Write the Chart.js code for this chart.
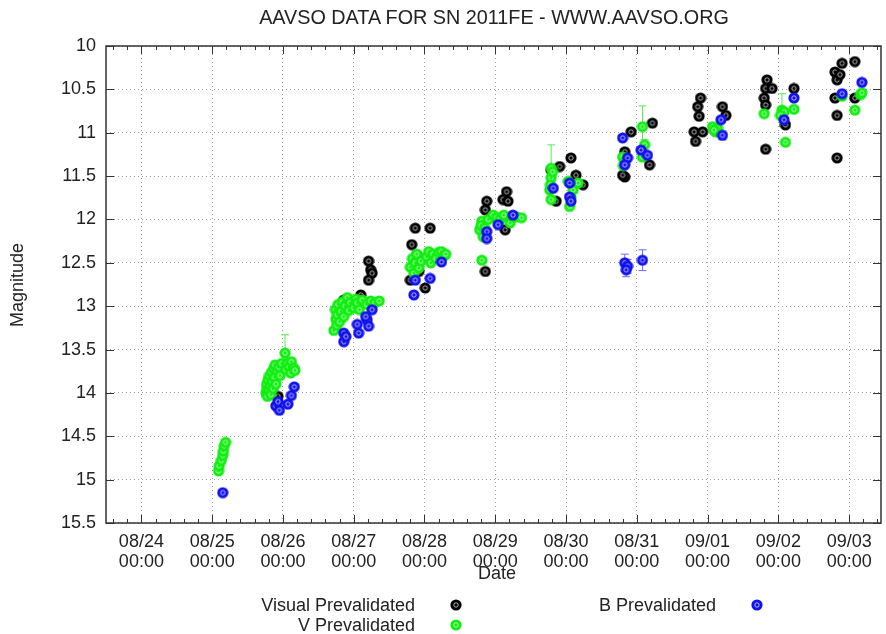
<!DOCTYPE html>
<html>
<head>
<meta charset="utf-8">
<script src="https://cdn.jsdelivr.net/npm/chart.js@4.4.1/dist/chart.umd.min.js"></script>
<style>
  body { margin: 0; background: #fff; }
  #wrap { position: relative; width: 886px; height: 634px; font-family: "Liberation Sans", Arial, sans-serif; color: #222; }
  #wrap div { position: absolute; white-space: nowrap; font-size: 18px; line-height: 20px; }
  .mk { position: absolute; width: 12px; height: 12px; }
</style>
</head>
<body>
<div id="wrap">
  <canvas id="chart" width="886" height="634"></canvas>
  <div id="titre" style="left:494px; top:7px; transform:translateX(-50%); font-size:19.8px;">AAVSO DATA FOR SN 2011FE - WWW.AAVSO.ORG</div>
  <div style="left:17px; top:285px; transform:translate(-50%,-50%) rotate(-90deg);">Magnitude</div>
  <div style="left:497px; top:563px; transform:translateX(-50%);">Date</div>
  <div style="right:471px; top:595px;">Visual Prevalidated</div>
  <div style="right:471px; top:615px;">V Prevalidated</div>
  <div style="right:170px; top:595px;">B Prevalidated</div>
</div>
<script>
// jours depuis 08/24 00:00
const dayTicks = [0, 1, 2, 3, 4, 5, 6, 7, 8, 9, 10];
const dateLabels = ['08/24', '08/25', '08/26', '08/27', '08/28', '08/29', '08/30', '08/31', '09/01', '09/02', '09/03'];
const magTicks = [10, 10.5, 11, 11.5, 12, 12.5, 13, 13.5, 14, 14.5, 15, 15.5];

// [jour, magnitude]
const visualObs = [
  [1.93, 14.04],
  [2.86, 12.93], [3.10, 12.87], [3.21, 12.48], [3.24, 12.58], [3.26, 12.62], [3.21, 12.70],
  [3.87, 12.10], [4.08, 12.10], [3.82, 12.29], [3.89, 12.41], [3.80, 12.70], [4.01, 12.79], [3.92, 12.60],
  [4.88, 11.79], [4.86, 11.89], [5.16, 11.68], [5.11, 11.77], [5.18, 11.79], [5.14, 12.12], [4.86, 12.60],
  [5.91, 11.39], [6.07, 11.29], [6.14, 11.49], [6.24, 11.60], [5.86, 11.79], [5.79, 11.43],
  [6.92, 10.99], [7.22, 10.89], [6.83, 11.22], [7.18, 11.37], [6.83, 11.51], [6.80, 11.49],
  [7.90, 10.60], [7.86, 10.70], [7.88, 10.81], [7.81, 10.99], [7.93, 10.99], [7.83, 11.10], [8.21, 10.70], [8.26, 10.80],
  [8.84, 10.39], [8.82, 10.49], [8.91, 10.49], [8.80, 10.60], [8.82, 10.68], [9.22, 10.49], [8.82, 11.19], [9.10, 10.91],
  [9.90, 10.20], [10.08, 10.18], [9.80, 10.30], [9.83, 10.39], [9.87, 10.33], [9.80, 10.60], [9.83, 10.80], [9.83, 11.29], [10.08, 10.60]
];

// [jour, magnitude, erreur]
const vObs = [
  [1.09, 14.90, 0.03], [1.10, 14.84, 0], [1.13, 14.78, 0], [1.15, 14.72, 0], [1.16, 14.67, 0], [1.17, 14.61, 0], [1.19, 14.57, 0],
  [1.76, 14.00, 0], [1.77, 13.95, 0], [1.77, 13.90, 0], [1.78, 14.04, 0], [1.79, 13.85, 0], [1.80, 13.97, 0], [1.81, 13.80, 0],
  [1.82, 13.92, 0], [1.83, 14.02, 0], [1.84, 13.76, 0], [1.85, 13.87, 0], [1.86, 13.95, 0], [1.87, 13.72, 0], [1.88, 13.82, 0],
  [1.89, 13.68, 0.05], [1.90, 13.90, 0], [1.92, 13.75, 0], [1.94, 13.70, 0], [1.96, 13.80, 0], [1.98, 13.66, 0],
  [2.03, 13.54, 0.21], [2.04, 13.73, 0], [2.06, 13.66, 0], [2.09, 13.70, 0], [2.11, 13.77, 0], [2.12, 13.64, 0], [2.15, 13.71, 0], [2.17, 13.74, 0],
  [2.72, 13.28, 0], [2.74, 13.04, 0], [2.75, 13.15, 0], [2.76, 13.22, 0], [2.77, 13.10, 0], [2.78, 12.98, 0], [2.80, 13.18, 0],
  [2.82, 13.06, 0], [2.84, 12.95, 0], [2.86, 13.12, 0], [2.88, 13.00, 0], [2.91, 12.90, 0], [2.93, 13.05, 0], [2.95, 12.96, 0],
  [3.00, 13.02, 0], [3.03, 12.92, 0], [3.05, 12.96, 0], [3.08, 13.04, 0], [3.12, 12.93, 0], [3.18, 12.98, 0], [3.24, 12.94, 0],
  [3.30, 12.96, 0], [3.36, 12.94, 0],
  [3.80, 12.55, 0], [3.83, 12.45, 0], [3.85, 12.62, 0], [3.87, 12.50, 0], [3.89, 12.40, 0], [3.92, 12.56, 0], [3.95, 12.48, 0],
  [4.03, 12.43, 0], [4.06, 12.37, 0], [4.09, 12.50, 0], [4.12, 12.40, 0], [4.16, 12.45, 0], [4.20, 12.38, 0], [4.24, 12.37, 0],
  [4.28, 12.42, 0], [4.30, 12.40, 0],
  [4.78, 12.12, 0], [4.81, 12.02, 0], [4.83, 12.20, 0], [4.80, 12.07, 0], [4.85, 12.10, 0], [4.90, 12.00, 0], [4.97, 11.95, 0],
  [5.02, 11.98, 0], [5.07, 12.00, 0], [5.12, 11.95, 0], [5.21, 12.04, 0], [5.25, 11.97, 0], [5.30, 11.97, 0], [5.37, 11.98, 0],
  [4.81, 12.47, 0],
  [5.79, 11.41, 0.27], [5.79, 11.52, 0], [5.77, 11.66, 0], [5.79, 11.77, 0], [5.78, 11.60, 0], [5.81, 11.45, 0],
  [6.03, 11.56, 0], [6.10, 11.66, 0], [6.05, 11.85, 0], [6.17, 11.58, 0], [6.07, 11.75, 0],
  [7.08, 10.93, 0.24], [6.80, 11.28, 0], [6.83, 11.33, 0], [7.11, 11.14, 0.06], [7.08, 11.28, 0], [6.81, 11.38, 0],
  [8.07, 10.93, 0], [8.14, 10.95, 0], [8.11, 10.99, 0], [8.09, 10.97, 0],
  [8.80, 10.78, 0], [9.05, 10.74, 0.19], [9.08, 10.76, 0], [9.22, 10.73, 0], [9.10, 11.11, 0], [9.03, 10.80, 0],
  [9.90, 10.58, 0], [10.08, 10.74, 0], [10.16, 10.56, 0], [10.18, 10.54, 0]
];

const bObs = [
  [1.15, 15.15, 0],
  [1.90, 14.15, 0], [1.95, 14.20, 0], [2.07, 14.13, 0], [2.12, 14.03, 0], [2.16, 13.93, 0], [1.93, 14.10, 0.05],
  [2.86, 13.41, 0], [2.86, 13.31, 0], [2.89, 13.35, 0], [3.05, 13.21, 0], [3.07, 13.31, 0], [3.19, 13.16, 0],
  [3.21, 13.23, 0], [3.26, 13.04, 0], [3.17, 13.12, 0],
  [3.87, 12.70, 0], [3.85, 12.87, 0], [4.08, 12.68, 0], [4.24, 12.49, 0],
  [4.88, 12.14, 0], [4.88, 12.22, 0], [5.04, 12.06, 0], [5.25, 11.95, 0],
  [5.82, 11.64, 0], [6.05, 11.58, 0], [6.05, 11.74, 0], [6.07, 11.79, 0],
  [6.80, 11.06, 0], [6.87, 11.29, 0], [6.83, 11.37, 0], [7.06, 11.20, 0], [7.15, 11.26, 0],
  [6.83, 12.50, 0.10], [6.87, 12.54, 0.08], [6.85, 12.58, 0.08], [7.08, 12.47, 0.12],
  [8.19, 10.85, 0], [8.21, 11.03, 0.05],
  [9.22, 10.60, 0], [9.08, 10.85, 0],
  [9.90, 10.55, 0], [10.18, 10.42, 0]
];

// petit rond façon gnuplot
function marqueur(couleur) {
  const c = document.createElement('canvas');
  c.width = 12; c.height = 12;
  const g = c.getContext('2d');
  g.fillStyle = couleur;
  g.beginPath(); g.arc(6, 6, 5.6, 0, Math.PI * 2); g.fill();
  g.strokeStyle = 'rgba(255,255,255,0.85)'; g.lineWidth = 0.8;
  g.beginPath(); g.arc(6, 6, 2.2, 0, Math.PI * 2); g.stroke();
  g.fillStyle = couleur;
  g.beginPath(); g.arc(6, 6, 1, 0, Math.PI * 2); g.fill();
  return c;
}

const mkNoir = marqueur('#000000');
const mkVert = marqueur('#11ee11');
const mkBleu = marqueur('#1111ee');

// legende (marqueurs)
const wrap = document.getElementById('wrap');
[[mkNoir, 450, 599], [mkVert, 450, 619], [mkBleu, 751, 599]].forEach(([m, x, y]) => {
  const img = document.createElement('img');
  img.src = m.toDataURL();
  img.className = 'mk';
  img.style.left = x + 'px';
  img.style.top = y + 'px';
  wrap.appendChild(img);
});

const cadre = {
  id: 'cadre',
  beforeDatasetsDraw(chart) {
    const { ctx } = chart;
    const { x, y } = chart.scales;
    ctx.save();
    chart.data.datasets.forEach(ds => {
      ctx.strokeStyle = ds.errColor;
      ctx.lineWidth = 1;
      ds.data.forEach(p => {
        if (!p.err) return;
        const px = x.getPixelForValue(p.x);
        const y1 = y.getPixelForValue(p.y - p.err);
        const y2 = y.getPixelForValue(p.y + p.err);
        ctx.beginPath();
        ctx.moveTo(px, y1); ctx.lineTo(px, y2);
        ctx.moveTo(px - 4, y1); ctx.lineTo(px + 4, y1);
        ctx.moveTo(px - 4, y2); ctx.lineTo(px + 4, y2);
        ctx.stroke();
      });
    });
    ctx.restore();
  },
  afterDraw(chart) {
    const { ctx, chartArea: a } = chart;
    const { x, y } = chart.scales;
    ctx.save();
    ctx.strokeStyle = '#333';
    ctx.lineWidth = 1;
    ctx.beginPath();
    for (let i = -2; i <= 55; i++) {
      const v = i / 5;
      if (v <= x.min || v >= x.max) continue;
      const px = Math.round(x.getPixelForValue(v)) + 0.5;
      const len = i % 5 === 0 ? 8 : 4;
      ctx.moveTo(px, a.bottom); ctx.lineTo(px, a.bottom - len);
      ctx.moveTo(px, a.top); ctx.lineTo(px, a.top + len);
    }
    magTicks.forEach(m => {
      const py = Math.round(y.getPixelForValue(m)) + 0.5;
      ctx.moveTo(a.left, py); ctx.lineTo(a.left + 8, py);
      ctx.moveTo(a.right, py); ctx.lineTo(a.right - 8, py);
    });
    ctx.stroke();
    ctx.lineWidth = 1.5;
    ctx.strokeRect(a.left, a.top, a.right - a.left, a.bottom - a.top);
    ctx.restore();
  }
};

const toPoints = arr => arr.map(o => ({ x: o[0], y: o[1], err: o[2] || 0 }));

new Chart(document.getElementById('chart'), {
  type: 'scatter',
  data: {
    datasets: [
      { label: 'B Prevalidated', data: toPoints(bObs), pointStyle: mkBleu, errColor: '#6a6aff', order: 1 },
      { label: 'V Prevalidated', data: toPoints(vObs), pointStyle: mkVert, errColor: '#55ee55', order: 2 },
      { label: 'Visual Prevalidated', data: toPoints(visualObs), pointStyle: mkNoir, errColor: '#444', order: 3 }
    ]
  },
  options: {
    responsive: false,
    animation: false,
    devicePixelRatio: 1,
    layout: { padding: { top: 46, right: 2, left: 0, bottom: 0 } },
    plugins: { legend: { display: false }, tooltip: { enabled: false } },
    scales: {
      x: {
        type: 'linear',
        min: -0.5,
        max: 10.45,
        afterBuildTicks: s => { s.ticks = dayTicks.map(v => ({ value: v })); },
        afterFit: s => { s.height = 111; },
        grid: { color: '#a0a0a0', drawTicks: false },
        border: { display: false, dash: [1, 3] },
        ticks: {
          autoSkip: false,
          maxRotation: 0,
          padding: 9,
          color: '#222',
          font: { family: 'Liberation Sans, Arial, sans-serif', size: 18, lineHeight: 1.12 },
          callback: v => [dateLabels[dayTicks.indexOf(v)], '00:00']
        }
      },
      y: {
        type: 'linear',
        reverse: true,
        min: 10,
        max: 15.5,
        afterBuildTicks: s => { s.ticks = magTicks.map(v => ({ value: v })); },
        afterFit: s => { s.width = 106; },
        grid: { color: '#a0a0a0', drawTicks: false },
        border: { display: false, dash: [1, 3] },
        ticks: {
          padding: 10,
          color: '#222',
          font: { family: 'Liberation Sans, Arial, sans-serif', size: 18 },
          callback: v => String(v)
        }
      }
    }
  },
  plugins: [cadre]
});
</script>
</body>
</html>
